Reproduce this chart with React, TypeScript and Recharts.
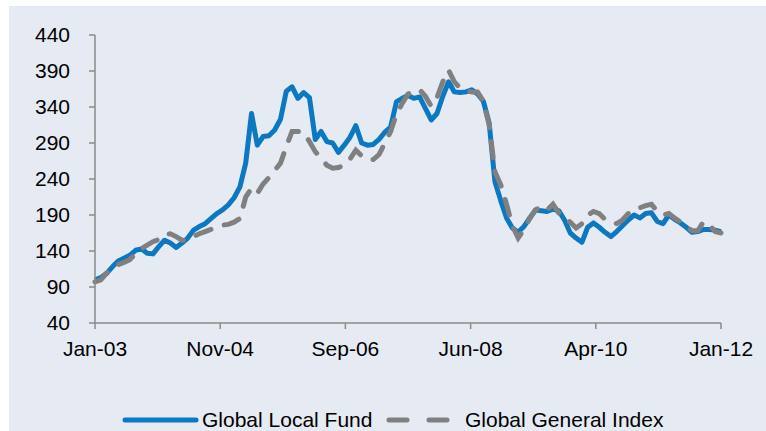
import { LineChart, Line, XAxis, YAxis } from "recharts";

// monthly index values, Jan-03 .. Jan-12
const fundValues = [
  100, 103, 109, 118, 126, 130, 134, 141, 143, 137, 136, 146, 155, 151, 145, 151,
  158, 169, 174, 178, 185, 192, 197, 204, 214, 229, 262, 331, 287, 299, 300, 308,
  323, 362, 368, 352, 360, 353, 295, 306, 292, 290, 277, 287, 298, 314, 290, 287,
  288, 295, 305, 312, 347, 352, 356, 352, 354, 338, 322, 331, 355, 375, 361, 360,
  361, 364, 358, 348, 318, 236, 210, 186, 172, 166, 174, 186, 197, 196, 195, 198,
  196, 183, 165, 158, 152, 173, 179, 173, 166, 160, 167, 175, 183, 190, 186, 192,
  193, 181, 178, 190, 184, 179, 173, 166, 167, 170, 170, 169, 167,
];

const indexValues = [
  97, 100, 109, 116, 121, 124, 128, 136, 143, 148, 153, 156, 163, 164, 160, 155,
  155, 160, 164, 167, 170, 173, 176, 177, 180, 185, 215, 227, 220, 233, 242, 252,
  262, 285, 306, 306, 305, 292, 278, 269, 259, 255, 256, 259, 268, 280, 272, 267,
  267, 274, 290, 306, 330, 345, 358, 362, 364, 355, 341, 353, 375, 391, 375, 366,
  362, 361, 361, 348, 315, 250, 232, 205, 175, 158, 170, 185, 197, 202, 197, 205,
  193, 186, 180, 172, 178, 190, 195, 192, 184, 180, 178, 183, 192, 198, 200, 203,
  205, 195, 190, 192, 186, 180, 175, 168, 168, 181, 176, 167, 165,
];

const xTickLabels = ["Jan-03", "Nov-04", "Sep-06", "Jun-08", "Apr-10", "Jan-12"];
const yTicks = [40, 90, 140, 190, 240, 290, 340, 390, 440];

const data = fundValues.map((v, i) => ({ m: i, fund: v, index: indexValues[i] }));
const lastIdx = fundValues.length - 1;
const xTicks = xTickLabels.map((_, i) => (i * lastIdx) / (xTickLabels.length - 1));

const FONT = '"Liberation Sans", Arial, sans-serif';
const BLUE = "#0B78C1";
const GRAY = "#808080";
const AXIS = "#8a8a8a";

const App = () => {
  return (
    <div
      style={{
        position: "absolute",
        left: 0,
        top: 0,
        width: 766,
        height: 431,
        background: "#ffffff",
        overflow: "hidden",
        fontFamily: FONT,
      }}
    >
      <div
        style={{
          position: "absolute",
          left: 9,
          top: 6,
          width: 757,
          height: 425,
          background: "#E6EAF3",
        }}
      >
        <LineChart
          width={757}
          height={425}
          data={data}
          margin={{ top: 29, right: 45, bottom: 78, left: 0 }}
        >
          <XAxis
            dataKey="m"
            type="number"
            domain={[0, lastIdx]}
            ticks={xTicks}
            tickFormatter={(_v: number, i: number) => xTickLabels[i]}
            height={30}
            stroke={AXIS}
            strokeWidth={1.5}
            tickSize={6}
            tickMargin={12}
            tick={{ fill: "#000", fontSize: 21, fontFamily: FONT }}
            interval={0}
          />
          <YAxis
            domain={[40, 440]}
            ticks={yTicks}
            width={86}
            stroke={AXIS}
            strokeWidth={1.5}
            tickSize={6}
            tickMargin={19}
            tick={{ fill: "#000", fontSize: 21, fontFamily: FONT }}
            interval={0}
          />
          <Line
            type="linear"
            dataKey="fund"
            stroke={BLUE}
            strokeWidth={5}
            dot={false}
            strokeLinejoin="round"
            isAnimationActive={false}
          />
          <Line
            type="linear"
            dataKey="index"
            stroke={GRAY}
            strokeWidth={5}
            strokeDasharray="16 14"
            strokeLinecap="round"
            dot={false}
            isAnimationActive={false}
          />
        </LineChart>
        <div
          style={{
            position: "absolute",
            top: 402,
            left: 0,
            width: 757,
            height: 24,
            fontSize: 21,
            color: "#000",
          }}
        >
          <svg
            width={80}
            height={10}
            style={{ position: "absolute", left: 112, top: 7 }}
          >
            <line x1={4} y1={5} x2={75} y2={5} stroke={BLUE} strokeWidth={5} strokeLinecap="round" />
          </svg>
          <span style={{ position: "absolute", left: 193, top: 0, lineHeight: "24px" }}>
            Global Local Fund
          </span>
          <svg
            width={70}
            height={10}
            style={{ position: "absolute", left: 375, top: 7 }}
          >
            <line
              x1={5}
              y1={5}
              x2={65}
              y2={5}
              stroke={GRAY}
              strokeWidth={5}
              strokeLinecap="round"
              strokeDasharray="18 22"
            />
          </svg>
          <span style={{ position: "absolute", left: 456, top: 0, lineHeight: "24px" }}>
            Global General Index
          </span>
        </div>
      </div>
    </div>
  );
};

export default App;
